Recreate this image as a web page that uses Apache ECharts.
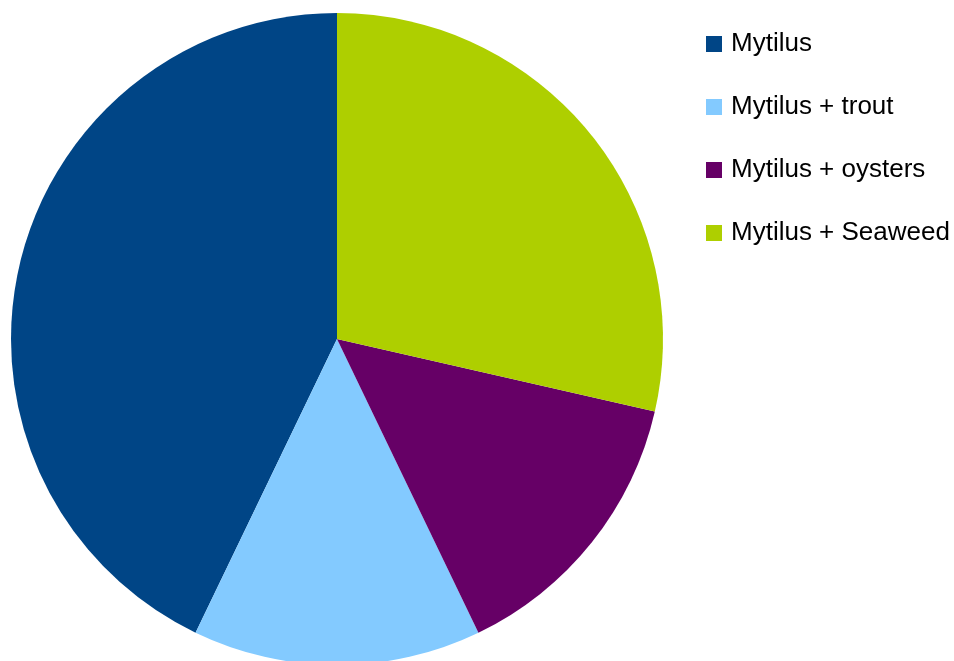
<!DOCTYPE html>
<html>
<head>
<meta charset="utf-8">
<script src="https://cdn.jsdelivr.net/npm/echarts@6/dist/echarts.min.js"></script>
<style>
  html, body { margin: 0; padding: 0; background: #fff; }
  #chart { width: 954px; height: 661px; }
</style>
</head>
<body>
<div id="chart"></div>
<script>
// 数据
const categories = ["Mytilus", "Mytilus + trout", "Mytilus + oysters", "Mytilus + Seaweed"];
const values = [3, 1, 1, 2];
const colors = ["#004586", "#83caff", "#660066", "#aecf00"];

const pieData = categories.map((name, i) => ({
  name: name,
  value: values[i],
  itemStyle: { color: colors[i] }
}));

const myChart = echarts.init(document.getElementById("chart"));
myChart.setOption({
  animation: false,
  legend: {
    orient: "vertical",
    left: 706,
    top: 31,
    padding: 0,
    icon: "rect",
    itemWidth: 16,
    itemHeight: 16,
    itemGap: 37,
    data: categories,
    textStyle: {
      fontFamily: "Liberation Sans",
      fontSize: 26,
      lineHeight: 26,
      color: "#000",
      padding: [0, 0, 0, 4]
    }
  },
  series: [
    {
      type: "pie",
      center: [337, 339],
      radius: 326,
      startAngle: 90,
      clockwise: false,
      label: { show: false },
      labelLine: { show: false },
      emphasis: { disabled: true },
      itemStyle: { borderWidth: 0 },
      data: pieData
    }
  ]
});
window.addEventListener("resize", () => { myChart.resize(); });
</script>
</body>
</html>
